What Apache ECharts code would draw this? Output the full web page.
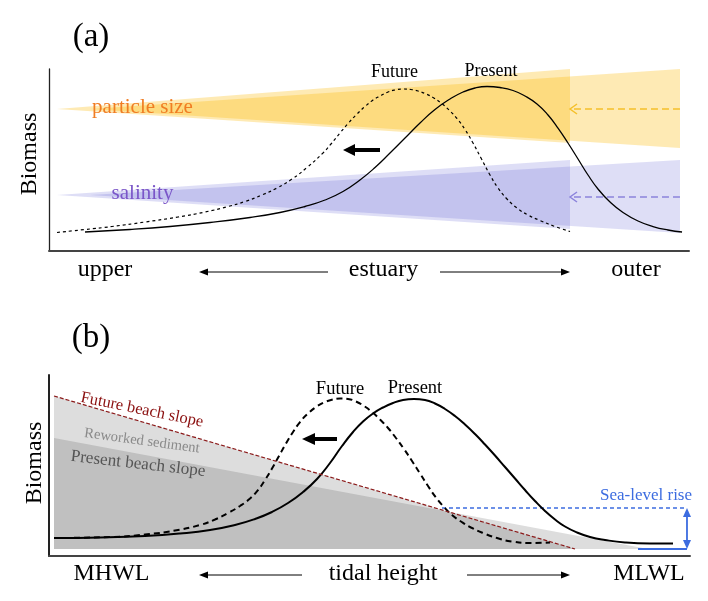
<!DOCTYPE html>
<html><head><meta charset="utf-8">
<script src="https://cdn.jsdelivr.net/npm/echarts@6/dist/echarts.min.js"></script>
<style>html,body{margin:0;padding:0;background:#fff}#c{width:708px;height:601px}</style>
</head><body><div id="c"></div>
<script>
// ---------------- Panel (a): estuary ----------------
const xLabelsA = ['upper', 'estuary', 'outer'];
const curveNamesA = ['Future', 'Present'];
const presentA = [[5.63,10.44],[12.66,11.81],[18.91,13.46],[25.16,15.66],[31.41,18.41],[36.09,21.15],[40.0,24.45],[43.13,28.02],[45.94,32.69],[48.59,39.01],[50.94,45.88],[53.28,53.85],[55.63,62.09],[57.97,70.33],[60.31,77.75],[62.66,83.52],[64.69,87.36],[66.56,89.56],[68.44,90.38],[70.47,89.84],[72.5,88.19],[74.38,85.16],[76.25,80.77],[77.97,74.73],[79.53,67.58],[81.09,59.34],[82.66,50.55],[84.22,41.76],[85.78,34.07],[87.66,26.92],[89.69,21.15],[92.03,16.48],[94.38,13.46],[96.72,11.54],[98.91,10.44]];
const futureA = [[1.25,10.16],[5.63,11.81],[9.84,13.46],[15.0,15.93],[20.16,18.68],[24.38,21.43],[27.97,24.45],[30.63,27.20],[33.28,30.77],[35.63,34.62],[37.97,39.56],[40.31,45.88],[42.81,53.85],[44.06,58.79],[45.47,64.84],[46.72,70.05],[48.13,75.27],[49.38,79.40],[50.63,82.97],[51.72,85.16],[52.97,87.36],[54.06,88.46],[55.31,89.01],[56.56,88.74],[57.66,87.91],[58.75,86.54],[60.0,84.34],[61.25,81.32],[62.5,77.47],[63.75,72.80],[65.0,66.76],[66.25,59.34],[67.5,51.10],[68.91,41.76],[70.16,34.62],[71.56,28.57],[73.13,23.63],[74.84,19.78],[76.72,16.76],[79.06,13.46],[81.41,10.71]];
const particleFuture = [[1.25,78.0],[81.41,100],[81.41,59.3]];
const particlePresent = [[6.41,78.0],[98.59,100],[98.59,56.6]];
const salinityFuture = [[1.25,30.8],[81.41,50.0],[81.41,12.1]];
const salinityPresent = [[6.41,30.8],[98.59,50.0],[98.59,9.9]];
const particleShift = [[98.59,78.02,81.41,78.02]];
const salinityShift = [[98.59,29.67,81.41,29.67]];
const shiftArrowA = [[51.72,55.49,45.94,55.49]];

// ---------------- Panel (b): beach ----------------
const xLabelsB = ['MHWL', 'tidal height', 'MLWL'];
const presentB = [[0.78,9.94],[7.96,10.22],[14.98,11.05],[20.44,12.43],[25.12,14.36],[29.02,17.13],[32.14,20.44],[34.79,24.31],[37.29,29.28],[39.63,35.36],[41.81,42.54],[43.84,51.38],[45.71,60.77],[47.43,68.51],[48.99,74.31],[50.55,78.73],[52.11,82.04],[53.67,84.53],[55.23,86.19],[56.94,86.74],[58.66,86.19],[60.22,84.25],[61.78,81.22],[63.34,77.35],[64.90,72.65],[66.46,67.40],[68.02,61.60],[69.58,55.52],[71.14,49.17],[72.70,42.82],[74.26,36.46],[75.82,30.39],[77.38,24.86],[78.94,20.17],[80.50,16.30],[82.37,12.98],[84.40,10.50],[86.74,8.84],[89.86,7.46],[93.76,6.91],[97.35,6.91]];
const futureB = [[0.78,9.94],[9.83,10.50],[14.98,11.88],[19.66,14.09],[23.56,17.13],[25.90,20.17],[27.93,23.76],[29.80,27.62],[31.36,31.77],[32.61,36.46],[33.70,41.99],[34.79,48.34],[35.88,55.25],[36.97,62.15],[38.07,68.51],[39.16,74.03],[40.41,78.73],[41.65,82.32],[42.90,84.81],[43.99,86.19],[45.40,87.02],[46.65,86.74],[47.89,85.36],[49.14,82.87],[50.39,79.56],[51.64,75.41],[52.89,70.72],[54.13,65.19],[55.38,59.12],[56.63,52.49],[57.88,45.58],[59.13,38.67],[60.37,32.32],[61.62,27.07],[62.87,22.65],[64.27,19.06],[65.83,15.75],[67.71,12.71],[69.89,9.94],[72.23,8.01],[75.04,7.18],[78.16,7.46]];
const futureSlope = [[0.78,88.40],[82.06,3.87],[0.78,3.87]];
const presentSlope = [[0.78,65.19],[93.45,3.87],[0.78,3.87]];
const futureSlopeLine = [[0.78,88.40],[82.06,3.87]];
const seaLevelLine = [[61.31,26.52],[99.53,26.52]];
const lowWaterLine = [[91.89,3.87],[99.53,3.87]];
const seaLevelRise = [[99.53,26.52,99.53,3.87]];
const shiftArrowB = [[44.93,64.64,39.47,64.64]];

const FONT = '"Liberation Serif","Times New Roman",serif';

function polygonSeries(name, pts, color, idx, z) {
  return {
    type: 'custom', name, xAxisIndex: idx, yAxisIndex: idx, data: pts, silent: true, z: z || 1,
    renderItem: function (params, api) {
      if (params.dataIndex !== 0) return null;
      return { type: 'polygon', shape: { points: pts.map(p => api.coord(p)) }, style: { fill: color } };
    }
  };
}

function headPts(tip, ux, uy, L, W) {
  const bx = tip[0] - ux * L, by = tip[1] - uy * L;
  return [[bx - uy * W, by + ux * W], tip, [bx + uy * W, by - ux * W]];
}

function arrowSeries(name, data, o, idx, z) {
  return {
    type: 'custom', name, xAxisIndex: idx, yAxisIndex: idx, data, silent: true, z: z || 5,
    encode: { x: [0, 2], y: [1, 3] },
    renderItem: function (params, api) {
      const a = api.coord([api.value(0), api.value(1)]);
      const b = api.coord([api.value(2), api.value(3)]);
      const dx = b[0] - a[0], dy = b[1] - a[1];
      const len = Math.sqrt(dx * dx + dy * dy);
      const ux = dx / len, uy = dy / len;
      const children = [];
      let s = a.slice(), e = b.slice();
      if (o.filled) {
        e = [b[0] - ux * o.L * 0.7, b[1] - uy * o.L * 0.7];
        if (o.both) s = [a[0] + ux * o.L * 0.7, a[1] + uy * o.L * 0.7];
      }
      children.push({ type: 'line', shape: { x1: s[0], y1: s[1], x2: e[0], y2: e[1] },
        style: { stroke: o.color, lineWidth: o.width, lineDash: o.dash || null } });
      const heads = [headPts(b, ux, uy, o.L, o.W)];
      if (o.both) heads.push(headPts(a, -ux, -uy, o.L, o.W));
      heads.forEach(h => {
        if (o.filled) children.push({ type: 'polygon', shape: { points: h }, style: { fill: o.color } });
        else children.push({ type: 'polyline', shape: { points: h }, style: { stroke: o.color, lineWidth: o.width, fill: null } });
      });
      return { type: 'group', children };
    }
  };
}

function lineSeries(name, data, color, width, dash, idx, z, smooth) {
  return {
    type: 'line', name, xAxisIndex: idx, yAxisIndex: idx, data,
    smooth: smooth === undefined ? 0.5 : smooth,
    symbol: 'none', showSymbol: false, silent: true, z: z || 3,
    lineStyle: { color, width, type: dash || 'solid' }
  };
}

function T(text, x, y, size, color, rot) {
  return { type: 'text', x, y, rotation: rot || 0, z: 100,
    style: { text, font: size + 'px ' + FONT, fill: color,
      textAlign: 'center', textVerticalAlign: 'middle', align: 'center', verticalAlign: 'middle' } };
}
function hArrow(x1, x2, y) {
  const dir = x2 > x1 ? 1 : -1;
  return [
    { type: 'line', z: 100, shape: { x1, y1: y, x2: x2 - dir * 6, y2: y }, style: { stroke: '#000', lineWidth: 1 } },
    { type: 'polygon', z: 100, shape: { points: [[x2, y], [x2 - dir * 9, y - 3.5], [x2 - dir * 9, y + 3.5]] }, style: { fill: '#000' } }
  ];
}

const axisStyle = (w, c) => ({ show: true, lineStyle: { color: c, width: w } });
function xA(idx) {
  return { type: 'value', gridIndex: idx, min: 0, max: 100, axisLine: axisStyle(2, '#444'),
    axisTick: { show: false }, axisLabel: { show: false }, splitLine: { show: false } };
}
function yA(idx, w) {
  return { type: 'value', gridIndex: idx, min: 0, max: 100, axisLine: axisStyle(w, '#222'),
    axisTick: { show: false }, axisLabel: { show: false }, splitLine: { show: false } };
}

const orange = 'rgba(252,185,5,0.3)';
const purple = 'rgba(90,90,210,0.2)';
const gray = 'rgba(28,28,28,0.15)';

const option = {
  animation: false,
  backgroundColor: '#fff',
  grid: [
    { left: 49, top: 69, width: 640, height: 182 },
    { left: 49, top: 375, width: 641, height: 181 }
  ],
  xAxis: [xA(0), xA(1)],
  yAxis: [yA(0, 1.3), yA(1, 2)],
  series: [
    polygonSeries('particle present', particlePresent, orange, 0),
    polygonSeries('particle future', particleFuture, orange, 0),
    polygonSeries('salinity present', salinityPresent, purple, 0),
    polygonSeries('salinity future', salinityFuture, purple, 0),
    arrowSeries('particle shift', particleShift, { color: '#f5c02a', width: 1.5, dash: [7, 4], L: 7, W: 5 }, 0),
    arrowSeries('salinity shift', salinityShift, { color: '#8c84dc', width: 1.5, dash: [7, 4], L: 7, W: 5 }, 0),
    lineSeries('Future', futureA, '#000', 1.2, [3, 3], 0),
    lineSeries('Present', presentA, '#000', 1.3, 'solid', 0),
    arrowSeries('shift a', shiftArrowA, { color: '#000', width: 4, filled: true, L: 12, W: 6 }, 0),

    polygonSeries('future beach', futureSlope, gray, 1),
    polygonSeries('present beach', presentSlope, gray, 1),
    lineSeries('future slope line', futureSlopeLine, '#8b1a1a', 1.2, [4, 2], 1, 4, false),
    lineSeries('sea level', seaLevelLine, '#3c6ce0', 1.4, [4, 3], 1, 3, false),
    lineSeries('low water', lowWaterLine, '#3c6ce0', 1.8, 'solid', 1, 3, false),
    arrowSeries('sea level rise', seaLevelRise, { color: '#3c6ce0', width: 1.8, filled: true, both: true, L: 9, W: 4 }, 1),
    lineSeries('Future', futureB, '#000', 2, [6, 4], 1),
    lineSeries('Present', presentB, '#000', 2, 'solid', 1),
    arrowSeries('shift b', shiftArrowB, { color: '#000', width: 4, filled: true, L: 13, W: 6 }, 1)
  ],
  graphic: [
    T('(a)', 91, 37, 33, '#000'),
    T('(b)', 91, 338, 33, '#000'),
    T('Biomass', 30, 154, 24, '#000', Math.PI / 2),
    T('Biomass', 35, 463, 24, '#000', Math.PI / 2),
    T('particle size', 142.5, 107, 21, '#f07d23'),
    T('salinity', 142.5, 193, 21, '#7a55c8'),
    T(curveNamesA[0], 394.5, 72, 18, '#000'),
    T(curveNamesA[1], 491, 71, 18, '#000'),
    T(curveNamesA[0], 340, 389, 18.5, '#000'),
    T(curveNamesA[1], 415, 388, 18.5, '#000'),
    T('Future beach slope', 142, 410, 16.5, '#8b1010', -0.20),
    T('Reworked sediment', 142, 441, 14.6, '#8a8a8a', -0.135),
    T('Present beach slope', 138, 464, 17.2, '#555', -0.113),
    T('Sea-level rise', 646, 496, 17, '#3c6ce0'),
    T(xLabelsA[0], 105, 270, 24, '#000'),
    T(xLabelsA[1], 383.5, 270, 24, '#000'),
    T(xLabelsA[2], 636, 270, 24, '#000'),
    T(xLabelsB[0], 111.5, 574, 24, '#000'),
    T(xLabelsB[1], 383, 574, 24, '#000'),
    T(xLabelsB[2], 649, 574, 24, '#000'),
    ...hArrow(328, 199, 272),
    ...hArrow(440, 570, 272),
    ...hArrow(302, 199, 575),
    ...hArrow(467, 570, 575)
  ]
};

const chart = echarts.init(document.getElementById('c'), null, { renderer: 'canvas' });
chart.setOption(option);
</script>
</body></html>
